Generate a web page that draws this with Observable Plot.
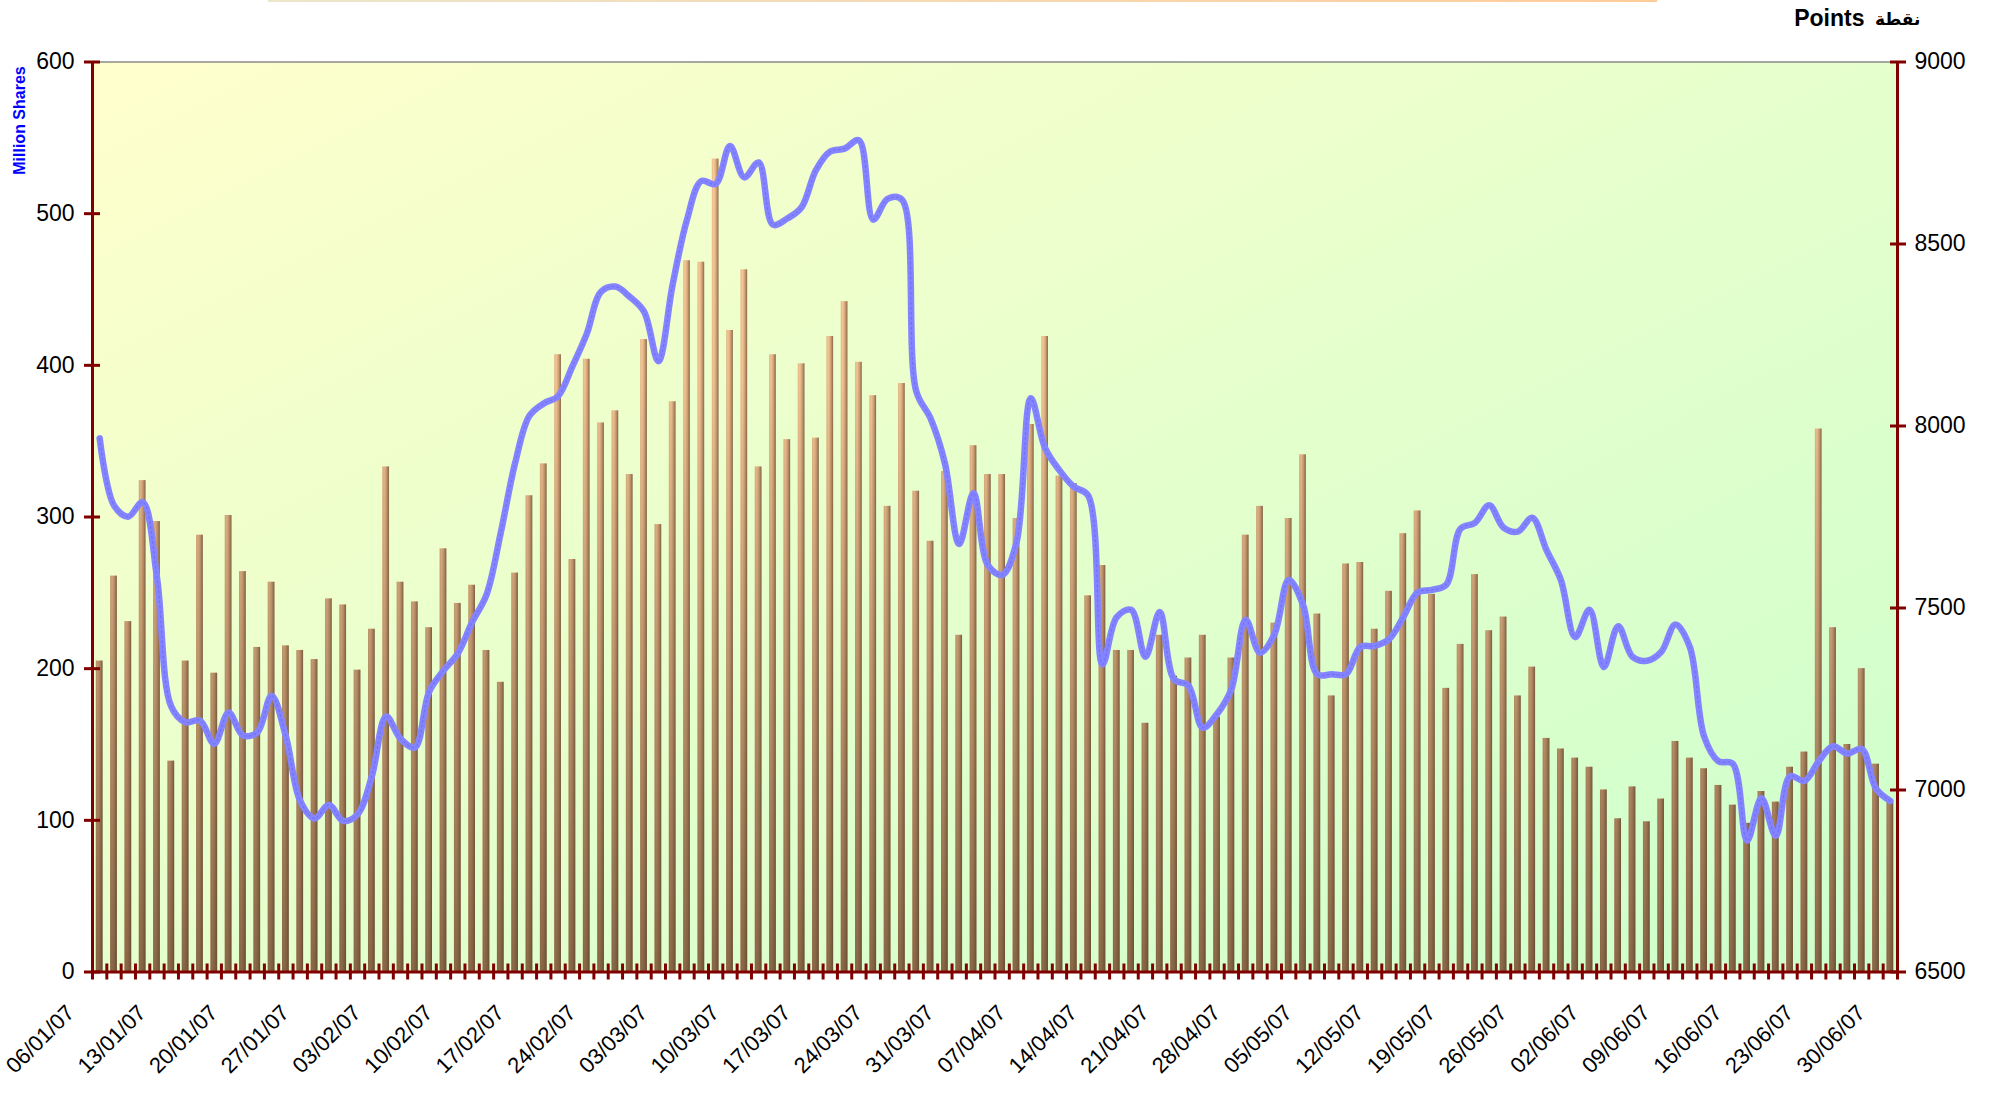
<!DOCTYPE html>
<html>
<head>
<meta charset="utf-8">
<script src="https://cdn.jsdelivr.net/npm/d3@7"></script>
<script src="https://cdn.jsdelivr.net/npm/@observablehq/plot@0.6"></script>
<style>
  html, body { margin: 0; padding: 0; background: #fff; }
  #wrap { position: relative; width: 1999px; height: 1096px; overflow: hidden; }
  #topline { position: absolute; left: 268px; top: 0; width: 1389px; height: 2px;
             background: linear-gradient(to right, #ece6cc, #ffcc99); }
</style>
</head>
<body>
<div id="wrap"><div id="topline"></div></div>
<script>
// Category tick labels (one label every 5 trading days)
const tickLabels = ["06/01/07","13/01/07","20/01/07","27/01/07","03/02/07","10/02/07","17/02/07","24/02/07","03/03/07","10/03/07","17/03/07","24/03/07","31/03/07","07/04/07","14/04/07","21/04/07","28/04/07","05/05/07","12/05/07","19/05/07","26/05/07","02/06/07","09/06/07","16/06/07","23/06/07","30/06/07"];

// Traded volume (million shares) — left axis
const volume = [205,261,231,324,297,139,205,288,197,301,
  264,214,257,215,212,206,246,242,199,226,
  333,257,244,227,279,243,255,212,191,263,
  314,335,407,272,404,362,370,328,417,295,
  376,469,468,536,423,463,333,407,351,401,
  352,419,442,402,380,307,388,317,284,330,
  222,347,328,328,299,361,419,327,322,248,
  268,212,212,164,222,195,207,222,168,207,
  288,307,230,299,341,236,182,269,270,226,
  251,289,304,249,187,216,262,225,234,182,
  201,154,147,141,135,120,101,122,99,114,
  152,141,134,123,110,98,119,112,135,145,
  358,227,150,200,137,112];

// Index level (points) — right axis
const points = [7966,7782,7751,7791,7584,7229,7186,7191,7127,7213,
  7150,7158,7259,7147,6970,6922,6959,6915,6933,7038,
  7202,7141,7117,7270,7328,7375,7461,7536,7707,7898,
  8028,8062,8082,8164,8253,8369,8383,8355,8314,8178,
  8389,8567,8673,8665,8769,8683,8724,8553,8570,8601,
  8703,8754,8762,8785,8567,8624,8622,8096,8021,7898,
  7676,7816,7618,7591,7680,8076,7939,7878,7833,7809,
  7345,7475,7495,7366,7489,7304,7287,7171,7209,7277,
  7468,7377,7427,7577,7509,7318,7318,7318,7393,7396,
  7414,7475,7543,7550,7564,7718,7734,7782,7721,7710,
  7748,7659,7577,7420,7495,7338,7450,7366,7355,7379,
  7455,7393,7147,7079,7072,6861,6977,6874,7038,7025,
  7079,7120,7100,7113,7004,6970];

const leftTicks = [0,100,200,300,400,500,600];
const rightTicks = [6500,7000,7500,8000,8500,9000];
const leftDomain = [0, 600];
const rightDomain = [6500, 9000];

const toLeft = p => (p - rightDomain[0]) / (rightDomain[1] - rightDomain[0]) * (leftDomain[1] - leftDomain[0]) + leftDomain[0];
const fromLeft = v => rightDomain[0] + (v - leftDomain[0]) / (leftDomain[1] - leftDomain[0]) * (rightDomain[1] - rightDomain[0]);

const data = volume.map((v, i) => ({i, v, p: points[i]}));
const n = data.length;
const half = 0.235; // half bar width in category units
const AXIS = "#800000";

const chart = Plot.plot({
  width: 1999,
  height: 1096,
  marginLeft: 92,
  marginRight: 102,
  marginTop: 61.5,
  marginBottom: 124.5,
  style: {background: "transparent", fontFamily: "'Liberation Sans', Arial, 'DejaVu Sans', sans-serif", overflow: "visible"},
  x: {type: "linear", domain: [-0.5, n - 0.5], axis: null, label: null},
  y: {domain: leftDomain, axis: null, label: null},
  marks: [
    Plot.frame({fill: "url(#bgGrad)", stroke: "none"}),
    Plot.rect(data, {x1: d => d.i - half, x2: d => d.i + half, y1: 0, y2: "v", fill: "url(#barGrad)"}),
    Plot.rect(data, {x1: d => d.i - half, x2: d => d.i + half, y1: 0, y2: "v", fill: "url(#barShade)"}),
    Plot.line(data, {x: "i", y: d => toLeft(d.p), curve: "catmull-rom", stroke: "#8484ff", strokeWidth: 6.5, strokeLinejoin: "round"}),
    Plot.line(data, {x: "i", y: d => toLeft(d.p), curve: "catmull-rom", stroke: "#3a3aff", strokeWidth: 1, strokeOpacity: 0.35, strokeDasharray: "2,3"}),
    Plot.ruleY([leftDomain[1]], {stroke: "#8a8a8a", strokeWidth: 1.5}),
    Plot.ruleX([-0.5, n - 0.5], {stroke: AXIS, strokeWidth: 3}),
    Plot.ruleY([0], {stroke: AXIS, strokeWidth: 3}),
    // left axis: crossing ticks + labels
    Plot.axisY(leftTicks, {anchor: "left", label: null, tickSize: 16, dx: 8, tickFormat: () => "", color: AXIS, strokeWidth: 3}),
    Plot.axisY(leftTicks, {anchor: "left", label: null, tickSize: 0, tickPadding: 18, fontSize: 23, color: "#000", tickFormat: d => String(d)}),
    // right axis
    Plot.axisY(rightTicks.map(toLeft), {anchor: "right", label: null, tickSize: 16, dx: -8, tickFormat: () => "", color: AXIS, strokeWidth: 3}),
    Plot.axisY(rightTicks.map(toLeft), {anchor: "right", label: null, tickSize: 0, tickPadding: 17, fontSize: 23, color: "#000", tickFormat: v => String(Math.round(fromLeft(v)))}),
    // bottom axis: a tick between every category
    Plot.axisX(d3.range(n + 1).map(k => k - 0.5), {anchor: "bottom", label: null, tickSize: 16, dy: -8, tickFormat: () => "", color: AXIS, strokeWidth: 3}),
    Plot.axisX(tickLabels.map((_, k) => k * 5), {anchor: "bottom", label: null, tickSize: 0, tickPadding: 37, tickRotate: -45, dx: -29, fontSize: 22, color: "#000", tickFormat: d => tickLabels[d / 5]}),
    // axis titles
    Plot.text(["Points"], {frameAnchor: "top-right", dx: -33, dy: -36.5, textAnchor: "end", lineAnchor: "bottom", fontSize: 23, fontWeight: "bold", fill: "#000"}),
    Plot.text(["نقطة"], {frameAnchor: "top-right", dx: 23, dy: -37, textAnchor: "end", lineAnchor: "bottom", fontSize: 17, fontWeight: "bold", fill: "#000"}),
    Plot.text(["Million Shares"], {frameAnchor: "top-left", dx: -73, dy: 58.5, rotate: -90, textAnchor: "middle", lineAnchor: "middle", fontSize: 16, fontWeight: "bold", fill: "#0000ff"})
  ]
});

// gradients
const ys = chart.scale("y");
const yTop = ys.apply(leftDomain[1]);
const yBot = ys.apply(0);
const ns = "http://www.w3.org/2000/svg";
const defs = document.createElementNS(ns, "defs");
defs.innerHTML = `
  <linearGradient id="bgGrad" x1="0" y1="0" x2="1" y2="1">
    <stop offset="0" stop-color="#ffffcc"/>
    <stop offset="1" stop-color="#ccffcc"/>
  </linearGradient>
  <linearGradient id="barGrad" x1="0" y1="0" x2="1" y2="0">
    <stop offset="0" stop-color="#eec08f"/>
    <stop offset="0.3" stop-color="#ffcf9c"/>
    <stop offset="0.65" stop-color="#d9a97b"/>
    <stop offset="1" stop-color="#8a6b50"/>
  </linearGradient>
  <linearGradient id="barShade" gradientUnits="userSpaceOnUse" x1="0" y1="${yTop}" x2="0" y2="${yBot}">
    <stop offset="0" stop-color="#5c4128" stop-opacity="0"/>
    <stop offset="0.35" stop-color="#5c4128" stop-opacity="0.08"/>
    <stop offset="1" stop-color="#5c4128" stop-opacity="0.72"/>
  </linearGradient>`;
chart.insertBefore(defs, chart.firstChild);
chart.style.position = "absolute";
chart.style.left = "0";
chart.style.top = "0";
document.getElementById("wrap").appendChild(chart);
</script>
</body>
</html>
